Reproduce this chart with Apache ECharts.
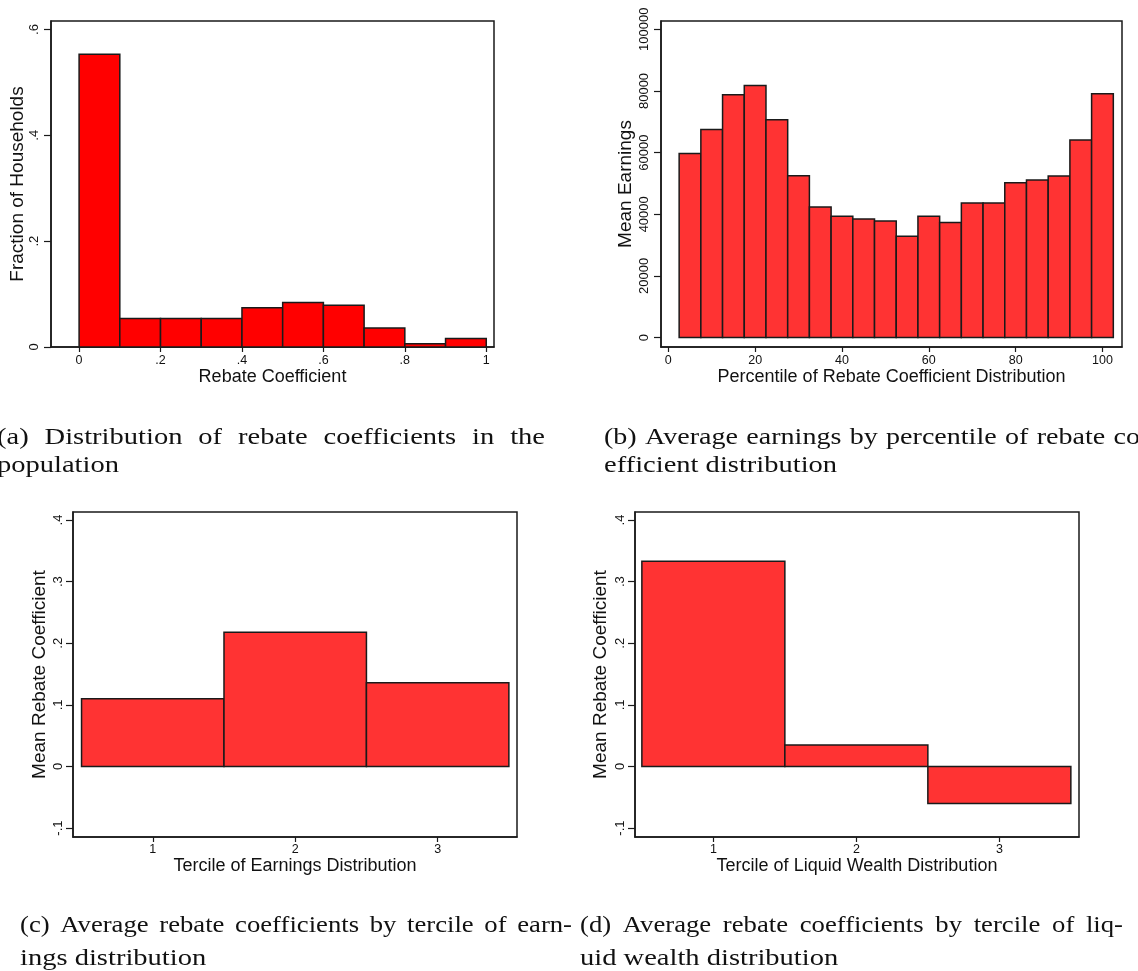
<!DOCTYPE html>
<html><head><meta charset="utf-8">
<script src="https://cdn.jsdelivr.net/npm/echarts@6/dist/echarts.min.js"></script>
<style>html,body{margin:0;padding:0;background:#fff;}#c{width:1138px;height:971px;}</style>
</head><body><div id="c"></div>
<script>
// ---- data ----
const rebateBinEdges = [0, 0.1, 0.2, 0.3, 0.4, 0.5, 0.6, 0.7, 0.8, 0.9, 1.0];
const fractionHouseholds = [0.553, 0.054, 0.054, 0.054, 0.074, 0.084, 0.079, 0.036, 0.006, 0.016];

const percentileCenters = [5, 10, 15, 20, 25, 30, 35, 40, 45, 50, 55, 60, 65, 70, 75, 80, 85, 90, 95, 100];
const percentileBinWidth = 5;
const meanEarnings = [59700, 67500, 78800, 81800, 70700, 52500, 42400, 39400, 38500, 37800,
                      32900, 39400, 37300, 43700, 43700, 50200, 51100, 52400, 64100, 79100];

const terciles = [1, 2, 3];
const rebateByEarningsTercile = [0.110, 0.218, 0.136];
const rebateByWealthTercile = [0.333, 0.035, -0.060];

const ticksAx = [0, 0.2, 0.4, 0.6, 0.8, 1];
const ticksAy = [0, 0.2, 0.4, 0.6];
const ticksBx = [0, 20, 40, 60, 80, 100];
const ticksBy = [0, 20000, 40000, 60000, 80000, 100000];
const ticksCDx = [1, 2, 3];
const ticksCDy = [-0.1, 0, 0.1, 0.2, 0.3, 0.4];

const captionA = ['(a) Distribution of rebate coefficients in the', 'population'];
const captionB = ['(b) Average earnings by percentile of rebate co', 'efficient distribution'];
const captionC = ['(c) Average rebate coefficients by tercile of earn-', 'ings distribution'];
const captionD = ['(d) Average rebate coefficients by tercile of liq-', 'uid wealth distribution'];

// ---- build ----
const dataA = fractionHouseholds.map((v, i) => [rebateBinEdges[i], rebateBinEdges[i + 1], v]);
const dataB = meanEarnings.map((v, i) => [percentileCenters[i] - percentileBinWidth / 2, percentileCenters[i] + percentileBinWidth / 2, v]);
const dataC = rebateByEarningsTercile.map((v, i) => [terciles[i] - 0.5, terciles[i] + 0.5, v]);
const dataD = rebateByWealthTercile.map((v, i) => [terciles[i] - 0.5, terciles[i] + 0.5, v]);

const SANS = '"Liberation Sans", Arial, Helvetica, sans-serif';
const SERIF = '"Liberation Serif", "Times New Roman", serif';
const INK = '#1a1a1a';

function stataFmt(v) {
  if (Math.abs(v) < 1e-9) return '0';
  if (Math.abs(v) >= 1) return String(Math.round(v * 1e6) / 1e6);
  const s = String(Math.round(Math.abs(v) * 1e6) / 1e6).replace(/^0/, '');
  return (v < 0 ? '-' : '') + s;
}

function xAx(grid, min, max, ticks, name, margin) {
  return {
    type: 'value', gridIndex: grid, min, max,
    axisLine: { show: true, onZero: false, lineStyle: { color: INK, width: 1.5 } },
    axisTick: { show: true, length: 5, customValues: ticks, lineStyle: { color: INK, width: 1.2 } },
    axisLabel: { show: true, customValues: ticks, formatter: stataFmt, margin, fontFamily: SANS, fontSize: 12.5, color: '#111' },
    splitLine: { show: false },
    name, nameLocation: 'middle', nameGap: 20,
    nameTextStyle: { fontFamily: SANS, fontSize: 18, color: '#111' }
  };
}
function yAx(grid, min, max, ticks, name, margin, nameGap) {
  return {
    type: 'value', gridIndex: grid, min, max,
    axisLine: { show: true, onZero: false, lineStyle: { color: INK, width: 1.5 } },
    axisTick: { show: true, length: 7, customValues: ticks, lineStyle: { color: INK, width: 1.2 } },
    axisLabel: { show: true, customValues: ticks, formatter: stataFmt, rotate: 90, margin, fontFamily: SANS, fontSize: 13, color: '#111' },
    splitLine: { show: false },
    name, nameLocation: 'middle', nameGap, nameRotate: 90,
    nameTextStyle: { fontFamily: SANS, fontSize: 19, color: '#111' }
  };
}
function histItem(fill) {
  return function (params, api) {
    const a = api.coord([api.value(0), 0]);
    const b = api.coord([api.value(1), api.value(2)]);
    return {
      type: 'rect',
      shape: { x: a[0], y: Math.min(a[1], b[1]), width: b[0] - a[0], height: Math.abs(a[1] - b[1]) },
      style: { fill, stroke: INK, lineWidth: 1.5 }
    };
  };
}
function histSeries(idx, data, fill) {
  return { type: 'custom', xAxisIndex: idx, yAxisIndex: idx, data, encode: { x: [0, 1], y: 2 },
           renderItem: histItem(fill), clip: false, silent: true };
}

// captions: justified first lines, horizontally widened serif
const measureCtx = document.createElement('canvas').getContext('2d');
const CAP_SIZE = 23;
const CAP_FONT = CAP_SIZE + 'px ' + SERIF;
measureCtx.font = CAP_FONT;
function capText(str, x, y, sx) {
  return { type: 'text', x: x, y: y, scaleX: sx, silent: true,
    style: { text: str, x: 0, y: 0, font: CAP_FONT, fill: '#111', textAlign: 'left', textVerticalAlign: 'middle', verticalAlign: 'middle' } };
}
function captionEls(lines, x0, x1, base1, base2, sx1, sx2) {
  const els = [];
  const words = lines[0].split(' ');
  const widths = words.map(w => measureCtx.measureText(w).width * sx1);
  const total = widths.reduce((s, w) => s + w, 0);
  const gap = (x1 - x0 - total) / (words.length - 1);
  let x = x0;
  const dy = -0.3 * CAP_SIZE;
  words.forEach((w, i) => {
    els.push(capText(w, x, base1 + dy, sx1));
    x += widths[i] + gap;
  });
  els.push(capText(lines[1], x0, base2 + dy, sx2));
  return els;
}

const grids = [
  { left: 51, top: 21, width: 443, height: 326 },
  { left: 661, top: 21, width: 461, height: 326 },
  { left: 73, top: 512, width: 444, height: 325 },
  { left: 635, top: 512, width: 444, height: 325 }
].map(g => Object.assign(g, { show: true, borderColor: INK, borderWidth: 1.5, backgroundColor: 'transparent', containLabel: false }));

const option = {
  animation: false,
  backgroundColor: '#ffffff',
  grid: grids,
  xAxis: [
    xAx(0, -0.069, 1.019, ticksAx, 'Rebate Coefficient', 7),
    xAx(1, -1.68, 104.5, ticksBx, 'Percentile of Rebate Coefficient Distribution', 7),
    xAx(2, 0.44, 3.557, ticksCDx, 'Tercile of Earnings Distribution', 6),
    xAx(3, 0.452, 3.557, ticksCDx, 'Tercile of Liquid Wealth Distribution', 6)
  ],
  yAxis: [
    yAx(0, 0, 0.616, ticksAy, 'Fraction of Households', 10, 24),
    yAx(1, -3050, 102700, ticksBy, 'Mean Earnings', 10, 26),
    yAx(2, -0.1145, 0.413, ticksCDy, 'Mean Rebate Coefficient', 8, 24),
    yAx(3, -0.1145, 0.413, ticksCDy, 'Mean Rebate Coefficient', 8, 25)
  ],
  series: [
    histSeries(0, dataA, '#ff0000'),
    histSeries(1, dataB, '#ff3333'),
    histSeries(2, dataC, '#ff3333'),
    histSeries(3, dataD, '#ff3333')
  ],
  graphic: [].concat(
    captionEls(captionA, -3, 545, 445, 473, 1.24, 1.24),
    captionEls(captionB, 604, 1140, 445, 473, 1.22, 1.24),
    captionEls(captionC, 20, 572, 933, 966, 1.16, 1.24),
    captionEls(captionD, 580, 1123, 933, 966, 1.16, 1.24)
  )
};

const chart = echarts.init(document.getElementById('c'), null, { renderer: 'canvas' });
chart.setOption(option);
</script>
</body></html>
